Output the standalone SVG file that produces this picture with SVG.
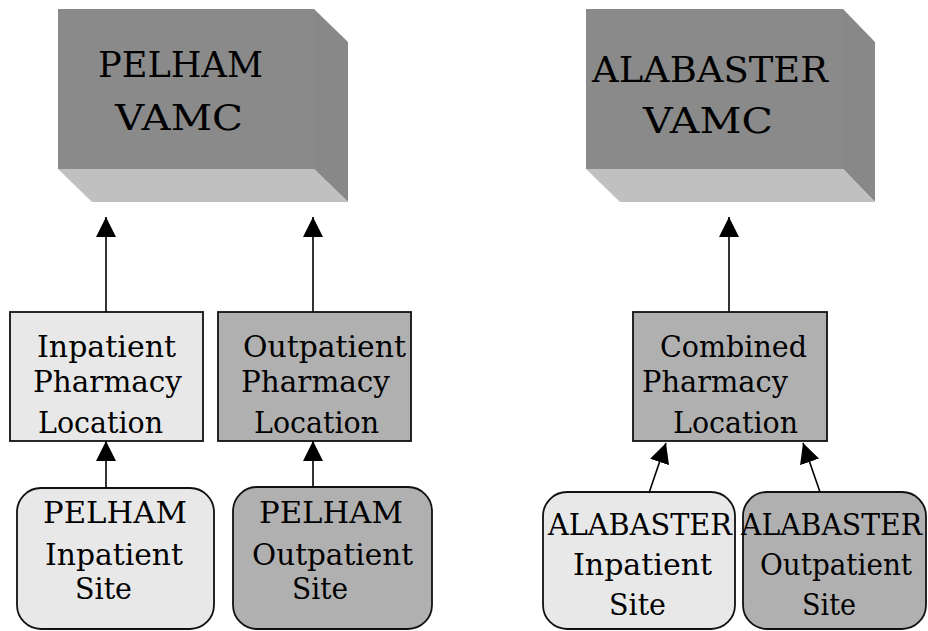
<svg xmlns="http://www.w3.org/2000/svg" width="928" height="631" viewBox="0 0 928 631">
<style>
text{font-family:"DejaVu Serif","Liberation Serif",serif;fill:#000}
.big{font-size:36px}
.sm{font-size:30px}
.front{fill:#8a8a8a}
.side{fill:#888888}
.bottom{fill:#c0c0c0}
.light{fill:#e8e8e8;stroke:#111;stroke-width:1.8}
.dark{fill:#b0b0b0;stroke:#111;stroke-width:1.8}
.conn{stroke:#000;stroke-width:1.6;fill:none;marker-end:url(#ah)}
</style>
<defs>
<marker id="ah" markerUnits="userSpaceOnUse" viewBox="0 0 20 20" refX="20" refY="10" markerWidth="20" markerHeight="20" orient="auto">
<path d="M0,0 L20,10 L0,20 z" fill="#000"/>
</marker>
</defs>
<g id="pelham-vamc">
<polygon class="side" points="314,9 348,42 348,202 314,169"/>
<polygon class="bottom" points="58,169 314,169 348,202 92,202"/>
<rect class="front" x="58" y="9" width="256" height="160"/>
<text class="big" x="98" y="77" textLength="165" lengthAdjust="spacingAndGlyphs">PELHAM</text>
<text class="big" x="115" y="130" textLength="128" lengthAdjust="spacingAndGlyphs">VAMC</text>
</g>
<g id="alabaster-vamc">
<polygon class="side" points="843,9 875,42 875,202 843,169"/>
<polygon class="bottom" points="586,169 843,169 875,202 620,202"/>
<rect class="front" x="586" y="9" width="257" height="160"/>
<text class="big" x="592" y="82" textLength="236" lengthAdjust="spacingAndGlyphs">ALABASTER</text>
<text class="big" x="643" y="133" textLength="130" lengthAdjust="spacingAndGlyphs">VAMC</text>
</g>
<g id="inpatient-location">
<rect class="light" x="10" y="312" width="193" height="129"/>
<text class="sm" x="37" y="357" textLength="139" lengthAdjust="spacingAndGlyphs">Inpatient</text>
<text class="sm" x="33" y="392" textLength="149" lengthAdjust="spacingAndGlyphs">Pharmacy</text>
<text class="sm" x="38" y="433" textLength="125" lengthAdjust="spacingAndGlyphs">Location</text>
</g>
<g id="outpatient-location">
<rect class="dark" x="218" y="312" width="193" height="129"/>
<text class="sm" x="243" y="357" textLength="163" lengthAdjust="spacingAndGlyphs">Outpatient</text>
<text class="sm" x="241" y="392" textLength="149" lengthAdjust="spacingAndGlyphs">Pharmacy</text>
<text class="sm" x="254" y="433" textLength="125" lengthAdjust="spacingAndGlyphs">Location</text>
</g>
<g id="combined-location">
<rect class="dark" x="633" y="312" width="194" height="129"/>
<text class="sm" x="660" y="357" textLength="147" lengthAdjust="spacingAndGlyphs">Combined</text>
<text class="sm" x="642" y="392" textLength="146" lengthAdjust="spacingAndGlyphs">Pharmacy</text>
<text class="sm" x="673" y="433" textLength="125" lengthAdjust="spacingAndGlyphs">Location</text>
</g>
<g id="pelham-inpatient-site">
<rect class="light" x="17" y="488" width="197" height="141" rx="24" ry="24"/>
<text class="sm" x="43" y="523" textLength="144" lengthAdjust="spacingAndGlyphs">PELHAM</text>
<text class="sm" x="45" y="565" textLength="138" lengthAdjust="spacingAndGlyphs">Inpatient</text>
<text class="sm" x="75" y="599" textLength="57" lengthAdjust="spacingAndGlyphs">Site</text>
</g>
<g id="pelham-outpatient-site">
<rect class="dark" x="233" y="487" width="199" height="142" rx="24" ry="24"/>
<text class="sm" x="259" y="523" textLength="144" lengthAdjust="spacingAndGlyphs">PELHAM</text>
<text class="sm" x="252" y="565" textLength="161" lengthAdjust="spacingAndGlyphs">Outpatient</text>
<text class="sm" x="292" y="599" textLength="56" lengthAdjust="spacingAndGlyphs">Site</text>
</g>
<g id="alabaster-inpatient-site">
<rect class="light" x="543" y="492" width="192" height="137" rx="24" ry="24"/>
<text class="sm" x="548" y="535" textLength="184" lengthAdjust="spacingAndGlyphs">ALABASTER</text>
<text class="sm" x="573" y="575" textLength="139" lengthAdjust="spacingAndGlyphs">Inpatient</text>
<text class="sm" x="609" y="615" textLength="57" lengthAdjust="spacingAndGlyphs">Site</text>
</g>
<g id="alabaster-outpatient-site">
<rect class="dark" x="743" y="492" width="183" height="137" rx="24" ry="24"/>
<text class="sm" x="741" y="535" textLength="181" lengthAdjust="spacingAndGlyphs">ALABASTER</text>
<text class="sm" x="760" y="575" textLength="152" lengthAdjust="spacingAndGlyphs">Outpatient</text>
<text class="sm" x="802" y="615" textLength="54" lengthAdjust="spacingAndGlyphs">Site</text>
</g>
<g id="connectors">
<line class="conn" x1="106" y1="312" x2="106" y2="217"/>
<line class="conn" x1="313" y1="312" x2="313" y2="217"/>
<line class="conn" x1="729" y1="312" x2="729" y2="217"/>
<line class="conn" x1="106" y1="488" x2="106" y2="441"/>
<line class="conn" x1="313" y1="487" x2="313" y2="441"/>
<line class="conn" x1="649" y1="493" x2="666" y2="443"/>
<line class="conn" x1="820" y1="492" x2="803" y2="443"/>
</g>
</svg>
